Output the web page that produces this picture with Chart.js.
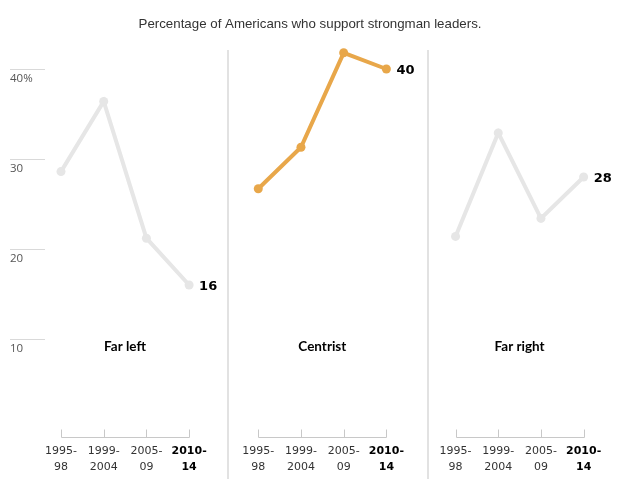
<!DOCTYPE html>
<html>
<head>
<meta charset="utf-8">
<script src="https://cdn.jsdelivr.net/npm/chart.js@4"></script>
<style>
html,body{margin:0;padding:0;background:#fff;}
#wrap{position:relative;width:631px;height:489px;}
</style>
</head>
<body>
<div id="wrap"><canvas id="c" width="631" height="489"></canvas></div>
<script>
const title = 'Percentage of Americans who support strongman leaders.';
const categories = ['1995-98', '1999-2004', '2005-09', '2010-14'];
const catLine1 = ['1995-', '1999-', '2005-', '2010-'];
const catLine2 = ['98', '2004', '09', '14'];
const panels = ['Far left', 'Centrist', 'Far right'];
const farLeft = [28.6, 36.4, 21.2, 16];
const centrist = [26.7, 31.3, 41.8, 40];
const farRight = [21.4, 32.9, 23.4, 28];
const yTicks = [40, 30, 20, 10];
const yTickLabels = ['40%', '30', '20', '10'];

const GRAY = '#e6e6e6';
const ORANGE = '#e8a74a';
const PANEL_OFFSET = 4.62;
const SEPARATORS = [3.91, 8.6];
const seriesList = [farLeft, centrist, farRight];
const colors = [GRAY, ORANGE, GRAY];

function toPoints(vals, p) {
  return vals.map((v, i) => ({x: p * PANEL_OFFSET + i, y: v}));
}

const datasets = seriesList.map((vals, p) => ({
  label: panels[p],
  data: toPoints(vals, p),
  borderColor: colors[p],
  backgroundColor: colors[p],
  pointBackgroundColor: colors[p],
  pointBorderColor: colors[p],
  borderWidth: 4,
  pointRadius: 4.5,
  pointBorderWidth: 0,
  tension: 0,
  fill: false,
  clip: false
}));

const decor = {
  id: 'decor',
  beforeDatasetsDraw(chart) {
    const ctx = chart.ctx;
    const xs = chart.scales.x, ys = chart.scales.y;
    ctx.save();
    // y tick lines
    ctx.strokeStyle = '#d9d9d9';
    ctx.lineWidth = 1;
    yTicks.forEach(v => {
      const y = Math.round(ys.getPixelForValue(v)) + 0.5;
      ctx.beginPath(); ctx.moveTo(10, y); ctx.lineTo(45, y); ctx.stroke();
    });
    // separators
    ctx.strokeStyle = '#e2e2e2';
    ctx.lineWidth = 2;
    SEPARATORS.forEach(s => {
      const x = Math.round(xs.getPixelForValue(s));
      ctx.beginPath(); ctx.moveTo(x, 50); ctx.lineTo(x, 479); ctx.stroke();
    });
    // x brackets
    ctx.strokeStyle = '#c8c8c8';
    ctx.lineWidth = 1;
    const yTop = Math.round(ys.getPixelForValue(0)) + 0.5;
    const yLine = yTop + 8;
    for (let p = 0; p < panels.length; p++) {
      const x0 = Math.round(xs.getPixelForValue(p * PANEL_OFFSET)) + 0.5;
      const x3 = Math.round(xs.getPixelForValue(p * PANEL_OFFSET + categories.length - 1)) + 0.5;
      ctx.beginPath(); ctx.moveTo(x0, yLine); ctx.lineTo(x3, yLine); ctx.stroke();
      categories.forEach((c, i) => {
        const x = Math.round(xs.getPixelForValue(p * PANEL_OFFSET + i)) + 0.5;
        ctx.beginPath(); ctx.moveTo(x, yTop); ctx.lineTo(x, yLine); ctx.stroke();
      });
    }
    ctx.restore();
  },
  afterDatasetsDraw(chart) {
    const ctx = chart.ctx;
    const xs = chart.scales.x, ys = chart.scales.y;
    ctx.save();
    // title
    ctx.fillStyle = '#333';
    ctx.font = '13.3px "Liberation Sans", sans-serif';
    ctx.textAlign = 'center';
    ctx.textBaseline = 'middle';
    ctx.fillText(title, 310, 24);
    // y tick labels
    ctx.textAlign = 'left';
    ctx.fillStyle = '#555';
    ctx.font = '11.5px "Open Sans", sans-serif';
    yTicks.forEach((v, k) => {
      ctx.fillText(yTickLabels[k], 10, ys.getPixelForValue(v) + 10);
    });
    // x labels
    const yBase = ys.getPixelForValue(0);
    for (let p = 0; p < panels.length; p++) {
      categories.forEach((c, i) => {
        const x = xs.getPixelForValue(p * PANEL_OFFSET + i);
        const last = i === categories.length - 1;
        ctx.fillStyle = last ? '#000' : '#333';
        ctx.font = (last ? 'bold ' : '') + '11px "DejaVu Sans", sans-serif';
        ctx.textAlign = 'center';
        ctx.fillText(catLine1[i], x, yBase + 22);
        ctx.fillText(catLine2[i], x, yBase + 38);
      });
      // panel label
      ctx.fillStyle = '#000';
      ctx.font = 'bold 13.5px "Lato", sans-serif';
      ctx.fillText(panels[p], xs.getPixelForValue(p * PANEL_OFFSET + (categories.length - 1) / 2), 347);
      // end value
      const vals = seriesList[p];
      const lv = vals[vals.length - 1];
      ctx.textAlign = 'left';
      ctx.font = 'bold 13px "DejaVu Sans", sans-serif';
      ctx.fillText(String(Math.round(lv)), xs.getPixelForValue(p * PANEL_OFFSET + vals.length - 1) + 10, ys.getPixelForValue(lv) + 2);
    }
    ctx.restore();
  }
};

new Chart(document.getElementById('c'), {
  type: 'line',
  data: {datasets},
  options: {
    responsive: false,
    animation: false,
    layout: {padding: 0, autoPadding: false},
    plugins: {legend: {display: false}, tooltip: {enabled: false}, title: {display: false}},
    scales: {
      x: {type: 'linear', display: false, min: -1.4286, max: -1.4286 + 631 / 42.7},
      y: {type: 'linear', display: false, min: -6.667, max: 47.667}
    }
  },
  plugins: [decor]
});
</script>
</body>
</html>
